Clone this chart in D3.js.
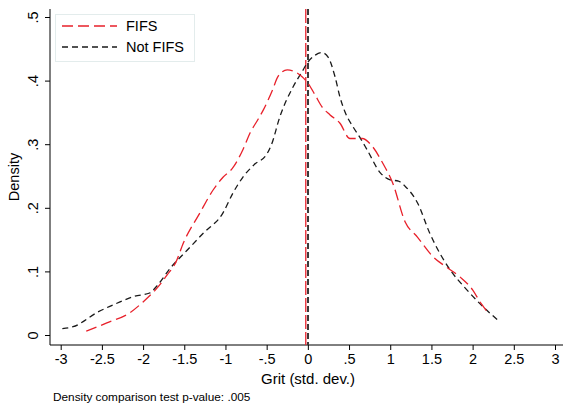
<!DOCTYPE html>
<html>
<head>
<meta charset="utf-8">
<script src="https://cdn.jsdelivr.net/npm/d3@7"></script>
<style>
  body { margin: 0; background: #fff; }
  text { font-family: Arial, "Liberation Sans", sans-serif; fill: #000; }
</style>
</head>
<body>
<div id="chart"></div>
<script>
// kernel density estimates: [grit, density]
var fifs = [
  [-2.69, 0.006], [-2.44, 0.019], [-2.16, 0.035], [-2.0, 0.052], [-1.85, 0.071],
  [-1.71, 0.094], [-1.6, 0.115], [-1.51, 0.145], [-1.31, 0.192], [-1.15, 0.228],
  [-1.03, 0.248], [-0.91, 0.263], [-0.79, 0.291], [-0.7, 0.318], [-0.6, 0.34],
  [-0.54, 0.354], [-0.43, 0.385], [-0.36, 0.407], [-0.25, 0.417], [-0.16, 0.414],
  [-0.07, 0.406], [0.0, 0.396], [0.09, 0.377], [0.17, 0.359], [0.27, 0.346],
  [0.39, 0.333], [0.51, 0.309], [0.66, 0.309], [0.78, 0.297], [0.91, 0.27],
  [1.03, 0.239], [1.18, 0.178], [1.33, 0.154], [1.52, 0.123], [1.69, 0.106],
  [1.85, 0.091], [2.0, 0.071], [2.1, 0.05], [2.17, 0.038]
];
var notFifs = [
  [-2.98, 0.01], [-2.85, 0.013], [-2.55, 0.036], [-2.28, 0.052], [-2.1, 0.061],
  [-1.92, 0.066], [-1.82, 0.079], [-1.67, 0.105], [-1.46, 0.134], [-1.27, 0.16],
  [-1.03, 0.192], [-0.91, 0.223], [-0.79, 0.248], [-0.65, 0.268], [-0.5, 0.284],
  [-0.44, 0.3], [-0.34, 0.343], [-0.18, 0.39], [-0.07, 0.414], [0.0, 0.429],
  [0.09, 0.44], [0.17, 0.444], [0.25, 0.436], [0.33, 0.406], [0.39, 0.374],
  [0.45, 0.351], [0.55, 0.327], [0.63, 0.311], [0.72, 0.291], [0.88, 0.255],
  [1.0, 0.244], [1.1, 0.242], [1.18, 0.234], [1.33, 0.208], [1.48, 0.16],
  [1.6, 0.129], [1.73, 0.102], [1.93, 0.071], [2.13, 0.044], [2.32, 0.022]
];
var meanFifs = -0.025;
var meanNotFifs = 0.002;
var xTicks = [-3, -2.5, -2, -1.5, -1, -0.5, 0, 0.5, 1, 1.5, 2, 2.5, 3];
var yTicks = [0, 0.1, 0.2, 0.3, 0.4, 0.5];
var seriesNames = ["FIFS", "Not FIFS"];

var W = 563, H = 409;
var plotLeft = 50, plotRight = 563, plotTop = 9, plotBottom = 345;

var svg = d3.select("#chart").append("svg")
  .attr("width", W).attr("height", H);

var x = d3.scaleLinear().domain([-3, 3]).range([60.7, 555]);
var y = d3.scaleLinear().domain([0, 0.5]).range([335, 17]);

// stata style labels: "-.5", ".5", plain hyphen
function fmt(v) {
  if (v === 0) return "0";
  var s = String(+v.toFixed(2));
  return s.replace("0.", ".");
}

// frame
svg.append("line").attr("x1", plotLeft).attr("x2", plotLeft)
  .attr("y1", plotTop).attr("y2", plotBottom)
  .attr("stroke", "#000").attr("stroke-width", 1);
svg.append("line").attr("x1", plotLeft).attr("x2", plotRight)
  .attr("y1", plotBottom).attr("y2", plotBottom)
  .attr("stroke", "#000").attr("stroke-width", 1);

// x axis
var xAxis = svg.append("g")
  .attr("transform", "translate(0," + plotBottom + ")")
  .call(d3.axisBottom(x).tickValues(xTicks).tickSize(5).tickPadding(4).tickFormat(fmt));
xAxis.select(".domain").remove();
xAxis.selectAll("text").attr("font-size", 14.5).style("font-family", "Arial, 'Liberation Sans', sans-serif");

// y axis
var yAxis = svg.append("g")
  .attr("transform", "translate(" + plotLeft + ",0)")
  .call(d3.axisLeft(y).tickValues(yTicks).tickSize(5).tickFormat(fmt));
yAxis.select(".domain").remove();
yAxis.selectAll("text")
  .attr("x", null).attr("dy", null)
  .attr("text-anchor", "middle")
  .attr("font-size", 14.5)
  .style("font-family", "Arial, 'Liberation Sans', sans-serif")
  .attr("transform", "translate(-12,0) rotate(-90)");

// axis titles
svg.append("text").attr("x", 14).attr("y", 177)
  .attr("transform", "rotate(-90,14,177)")
  .attr("text-anchor", "middle").attr("dy", "0.35em")
  .attr("font-size", 14.5).text("Density");
svg.append("text").attr("x", 308).attr("y", 384)
  .attr("text-anchor", "middle").attr("font-size", 15)
  .text("Grit (std. dev.)");
svg.append("text").attr("x", 53).attr("y", 401)
  .attr("font-size", 11.8).text("Density comparison test p-value: .005");

// mean lines
svg.append("line")
  .attr("x1", x(meanNotFifs)).attr("x2", x(meanNotFifs))
  .attr("y1", plotTop).attr("y2", plotBottom)
  .attr("stroke", "#3a3a3a").attr("stroke-width", 2)
  .attr("stroke-dasharray", "6,3");
svg.append("line")
  .attr("x1", x(meanFifs)).attr("x2", x(meanFifs))
  .attr("y1", plotTop).attr("y2", plotBottom)
  .attr("stroke", "#e8202a").attr("stroke-width", 1.3)
  .attr("stroke-dasharray", "14,3");

var line = d3.line()
  .x(function(d) { return x(d[0]); })
  .y(function(d) { return y(d[1]); })
  .curve(d3.curveMonotoneX);

svg.append("path").datum(notFifs)
  .attr("d", line).attr("fill", "none")
  .attr("stroke", "#1a1a1a").attr("stroke-width", 1.3)
  .attr("stroke-dasharray", "6,4");
svg.append("path").datum(fifs)
  .attr("d", line).attr("fill", "none")
  .attr("stroke", "#e8202a").attr("stroke-width", 1.3)
  .attr("stroke-dasharray", "11,5");

// legend
var leg = svg.append("g");
leg.append("rect").attr("x", 55.5).attr("y", 14.5).attr("width", 139).attr("height", 47)
  .attr("fill", "#fff").attr("stroke", "#e3ecec").attr("stroke-width", 1);
var legStyles = [
  { color: "#e8202a", dash: "11,5" },
  { color: "#1a1a1a", dash: "6,4" }
];
seriesNames.forEach(function(name, i) {
  var yy = 26 + i * 21;
  leg.append("line").attr("x1", 62).attr("x2", 117).attr("y1", yy).attr("y2", yy)
    .attr("stroke", legStyles[i].color).attr("stroke-width", 1.3)
    .attr("stroke-dasharray", legStyles[i].dash);
  leg.append("text").attr("x", 126).attr("y", yy).attr("dy", "0.35em")
    .attr("font-size", 14.5).text(name);
});
</script>
</body>
</html>
